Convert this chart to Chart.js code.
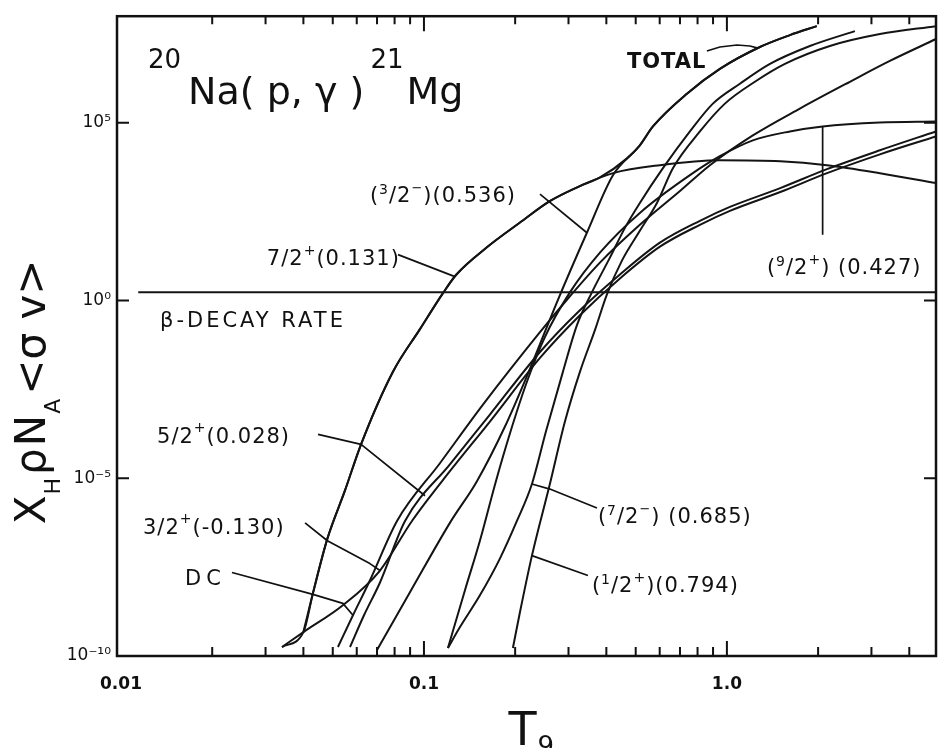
<!DOCTYPE html>
<html><head><meta charset="utf-8">
<script src="https://cdn.jsdelivr.net/npm/chart.js@4.4.1/dist/chart.umd.min.js"></script>
<style>html,body{margin:0;padding:0;background:#fff}canvas{display:block}</style>
</head><body>
<div style="width:940px;height:748px"><canvas id="c" width="940" height="748"></canvas></div>
<script>
// ---- data (T9, rate) ----
const xTickValues = [0.01, 0.1, 1];
const xTickLabels = ['0.01', '0.1', '1.0'];
const yTickValues = [1e-10, 1e-5, 1, 1e5];
const yTickLabels = ['10\u207B\u00B9\u2070', '10\u207B\u2075', '10\u2070', '10\u2075'];
const xMinorTicks = [0.02,0.03,0.04,0.05,0.06,0.07,0.08,0.09,0.2,0.3,0.4,0.5,0.6,0.7,0.8,0.9,2,3,4];
const xMajorTicks = [0.1, 1];

const T9_beta = [0.0114, 4.9];
const rate_beta = [1.7, 1.7];

const T9_72p = [0.040,0.043,0.048,0.0548,0.062,0.079,0.097,0.116,0.128,0.161,0.207,0.261,0.327,0.421,0.601,0.948,1.50,2.14,3.20,4.9];
const rate_72p = [4.7e-10,5.8e-9,2.0e-7,4.4e-6,9.0e-5,9.9e-3,0.157,1.7,5.4,31,154,634,1660,3840,6430,8860,8300,6430,3840,2020];

const T9_total = [0.0340,0.040,0.043,0.048,0.0548,0.062,0.079,0.097,0.116,0.128,0.161,0.207,0.261,0.327,0.381,0.468,0.516,0.570,0.738,0.948,1.285,1.614,1.98];
const rate_total = [1.79e-10,4.7e-10,5.8e-9,2.0e-7,4.4e-6,9.0e-5,9.9e-3,0.157,1.7,5.4,31,154,634,1660,2900,1.0e4,2.33e4,7.9e4,6.6e5,3.3e6,1.36e7,2.94e7,5.26e7];

const T9_32m = [0.0700,0.0899,0.1218,0.1496,0.1851,0.2238,0.2747,0.345,0.4206,0.516,0.570,0.738,0.948,1.285,1.614,1.98];
const rate_32m = [1.48e-10,6.2e-9,5.57e-7,8.3e-6,2.86e-4,1.20e-2,0.893,80.7,3370,2.33e4,7.9e4,6.6e5,3.3e6,1.36e7,2.94e7,5.26e7];

const T9_92p = [0.1200,0.1365,0.1530,0.1728,0.1922,0.2187,0.2507,0.3032,0.381,0.516,0.755,0.948,1.218,1.614,2.07,3.20,4.9];
const rate_92p = [1.68e-10,7.0e-9,1.75e-7,8.3e-6,1.82e-4,5.19e-3,9.4e-2,1.70,22.3,292,3370,1.15e4,3.21e4,5.73e4,7.9e4,1.02e5,1.09e5];

const T9_72m = [0.1200,0.1315,0.1530,0.1781,0.2027,0.2272,0.2527,0.2875,0.3199,0.3584,0.411,0.4607,0.516,0.615,0.755,0.899,1.104,1.387,1.879,2.645];
const rate_72m = [1.68e-10,6.5e-10,5.08e-9,5.5e-8,6.3e-7,6.9e-6,2.07e-4,9.86e-3,0.203,1.70,16.1,111,557,5300,5.73e4,3.47e5,1.26e6,4.55e6,1.45e7,3.81e7];

const T9_12p = [0.1966,0.2074,0.2272,0.2604,0.292,0.3272,0.3667,0.4018,0.4503,0.516,0.5875,0.6634,0.8145,0.985,1.237,1.554,2.187,3.20,4.9];
const rate_12p = [1.68e-10,1.70e-9,6.67e-8,6.9e-6,3.95e-4,9.86e-3,0.147,1.49,13.3,91.8,557,5300,5.73e4,3.47e5,1.43e6,4.55e6,1.45e7,3.14e7,5.26e7];

const T9_dc = [0.0520,0.0583,0.0663,0.0815,0.1129,0.1566,0.2415,0.3032,0.381,0.516,0.700,0.879,1.218,1.741,2.546,3.45,4.9];
const rate_dc = [1.79e-10,1.40e-9,1.33e-8,6.3e-7,2.65e-5,1.18e-3,0.129,1.32,11.7,135,1205,6430,4.43e4,2.52e5,1.43e6,5.52e6,2.28e7];

const T9_52p = [0.0570,0.0634,0.0716,0.0866,0.1218,0.1651,0.2415,0.3272,0.4435,0.601,0.8145,1.023,1.50,2.14,3.20,4.9];
const rate_52p = [1.79e-10,1.40e-9,1.17e-8,6.3e-7,2.48e-5,6.2e-4,3.57e-2,0.533,5.41,42.5,175,431,1460,4970,1.69e4,5.73e4];

const T9_32p = [0.0340,0.040,0.0540,0.0716,0.0913,0.1218,0.1651,0.2415,0.3272,0.4435,0.601,0.8145,1.023,1.50,2.14,3.20,4.9];
const rate_32p = [1.79e-10,4.7e-10,2.67e-9,2.54e-8,6.3e-7,1.58e-5,3.95e-4,2.43e-2,0.386,4.19,32.8,135,333,1130,3840,1.30e4,4.15e4];

const series = [
  ['beta', T9_beta, rate_beta],
  ['7/2+', T9_72p, rate_72p],
  ['TOTAL', T9_total, rate_total],
  ['3/2-', T9_32m, rate_32m],
  ['9/2+', T9_92p, rate_92p],
  ['7/2-', T9_72m, rate_72m],
  ['1/2+', T9_12p, rate_12p],
  ['DC', T9_dc, rate_dc],
  ['5/2+', T9_52p, rate_52p],
  ['3/2+', T9_32p, rate_32p]
];

const FONT = '"DejaVu Sans", sans-serif';

// labels: anchor (T9, rate) = left/baseline; parts [text, size, dy, gapBefore]
const textLabels = [
  {at:[0.01228, 3.47e5], parts:[['20',26,-36,0],['Na( p, \u03B3 )',38,0,7],['21',26,-36,6],['Mg',38,0,3]], sp:0},
  {at:[0.4677, 3.52e6], parts:[['TOTAL',21,0,0]], weight:'bold', sp:1},
  {at:[0.0663, 594], parts:[['(',21,0,0],['3',14,-8,0],['/2',21,0,0],['\u2212',13,-10,0],[')(0.536)',21,0,0]], sp:1},
  {at:[0.0303, 10.3], parts:[['7/2',21,0,0],['+',14,-10,0],['(0.131)',21,0,0]], sp:1},
  {at:[1.355, 5.41], parts:[['(',21,0,0],['9',14,-8,0],['/2',21,0,0],['+',14,-10,0],[') (0.427)',21,0,0]], sp:1},
  {at:[0.01345, 0.179], parts:[['\u03B2-DECAY RATE',21,0,0]], sp:3},
  {at:[0.01315, 9.6e-5], parts:[['5/2',21,0,0],['+',14,-11,0],['(0.028)',21,0,0]], sp:1},
  {at:[0.01182, 2.75e-7], parts:[['3/2',21,0,0],['+',14,-11,0],['(-0.130)',21,0,0]], sp:1},
  {at:[0.01626, 9.7e-9], parts:[['DC',21,0,0]], sp:5},
  {at:[0.3752, 5.57e-7], parts:[['(',21,0,0],['7',14,-8,0],['/2',21,0,0],['\u2212',13,-10,0],[') (0.685)',21,0,0]], sp:1},
  {at:[0.3584, 6.2e-9], parts:[['(',21,0,0],['1',14,-8,0],['/2',21,0,0],['+',14,-10,0],[')(0.794)',21,0,0]], sp:1}
];

// leader lines: points (T9, rate), ending on the named curve at T9 = end
const leaders = [
  {pts:[[0.2415, 993]], curve:'3/2-', end:0.345},
  {pts:[[0.0821, 19.6]], curve:'7/2+', end:0.1265},
  {pts:[[2.07, 71]], curve:'9/2+', end:2.07},
  {pts:[[0.0447, 1.71e-4],[0.062, 9.0e-5]], curve:'5/2+', end:0.1008},
  {pts:[[0.0405, 5.57e-7],[0.048, 1.75e-7],[0.0663, 3.98e-8]], curve:'3/2+', end:0.0716},
  {pts:[[0.02324, 2.23e-8],[0.043, 5.42e-9],[0.054, 3.03e-9]], curve:'DC', end:0.0583},
  {pts:[[0.3724, 1.46e-6],[0.2604, 4.97e-6]], curve:'7/2-', end:0.2272},
  {pts:[[0.3478, 1.84e-8]], curve:'1/2+', end:0.2272},
  {pts:[[0.859, 1.05e7],[0.948, 1.36e7],[1.079, 1.55e7],[1.191, 1.45e7]], curve:'TOTAL', end:1.266}
];

function rateAt(name, t) {
  const s = series.find(q => q[0] === name);
  const xs = s[1], ys = s[2];
  for (let i = 0; i < xs.length - 1; i++) {
    if (t >= xs[i] && t <= xs[i+1]) {
      const f = (Math.log(t) - Math.log(xs[i])) / (Math.log(xs[i+1]) - Math.log(xs[i]));
      return Math.exp(Math.log(ys[i]) + f * (Math.log(ys[i+1]) - Math.log(ys[i])));
    }
  }
  return ys[ys.length-1];
}

function rich(ctx, x0, y0, parts, weight, sp) {
  let x = x0;
  ctx.letterSpacing = (sp || 0) + 'px';
  for (const [t, size, dy, gap] of parts) {
    x += gap || 0;
    ctx.font = (weight || 'normal') + ' ' + size + 'px ' + FONT;
    ctx.fillText(t, x, y0 + (dy || 0));
    x += ctx.measureText(t).width;
  }
  ctx.letterSpacing = '0px';
}

const decor = {
  id: 'decor',
  afterDatasetsDraw(chart) {
    const {ctx, chartArea: a, scales} = chart;
    const sx = scales.x, sy = scales.y;
    const P = (t, r) => [sx.getPixelForValue(t), sy.getPixelForValue(r)];
    ctx.save();
    ctx.strokeStyle = '#111';
    ctx.fillStyle = '#111';
    ctx.lineCap = 'butt';
    // frame
    ctx.lineWidth = 2.5;
    ctx.strokeRect(a.left, a.top, a.right - a.left, a.bottom - a.top);
    // inward tick marks
    ctx.lineWidth = 2;
    ctx.beginPath();
    xMinorTicks.forEach(v => {
      const X = sx.getPixelForValue(v);
      ctx.moveTo(X, a.bottom); ctx.lineTo(X, a.bottom - 9);
      ctx.moveTo(X, a.top); ctx.lineTo(X, a.top + 8);
    });
    xMajorTicks.forEach(v => {
      const X = sx.getPixelForValue(v);
      ctx.moveTo(X, a.bottom); ctx.lineTo(X, a.bottom - 15);
      ctx.moveTo(X, a.top); ctx.lineTo(X, a.top + 15);
    });
    [1e5, 1, 1e-5].forEach(v => {
      const Y = sy.getPixelForValue(v);
      ctx.moveTo(a.left, Y); ctx.lineTo(a.left + 12, Y);
      ctx.moveTo(a.right, Y); ctx.lineTo(a.right - 12, Y);
    });
    ctx.stroke();
    // leader lines
    ctx.lineWidth = 1.7;
    ctx.lineJoin = 'round';
    leaders.forEach(L => {
      ctx.beginPath();
      L.pts.forEach((p, i) => {
        const [X, Y] = P(p[0], p[1]);
        if (i === 0) ctx.moveTo(X, Y); else ctx.lineTo(X, Y);
      });
      const [Xe, Ye] = P(L.end, rateAt(L.curve, L.end));
      ctx.lineTo(Xe, Ye);
      ctx.stroke();
    });
    // text labels
    ctx.textBaseline = 'alphabetic';
    ctx.textAlign = 'left';
    textLabels.forEach(l => {
      const [X, Y] = P(l.at[0], l.at[1]);
      rich(ctx, X, Y, l.parts, l.weight, l.sp);
    });
    // axis titles
    ctx.save();
    ctx.translate(a.left - 72, a.top + 508);
    ctx.rotate(-Math.PI / 2);
    rich(ctx, 0, 0, [['X',42,0,0],['H',22,15,1],['\u03C1',42,0,3],['N',42,0,2],['A',22,15,1],['<\u03C3 v>',42,0,4]], 'normal', 0);
    ctx.restore();
    rich(ctx, (a.left + a.right) / 2 - 18, 745, [['T',46,0,0],['9',26,10,1]], 'normal', 0);
    ctx.restore();
  }
};

const datasets = series.map(([name, xs, ys]) => ({
  label: name,
  data: xs.map((t, i) => ({x: t, y: ys[i]})),
  showLine: true,
  borderColor: '#141414',
  borderWidth: 2,
  pointRadius: 0,
  fill: false,
  cubicInterpolationMode: name === 'beta' ? 'default' : 'monotone',
  tension: 0
}));

new Chart(document.getElementById('c'), {
  type: 'scatter',
  data: { datasets },
  options: {
    responsive: false,
    devicePixelRatio: 1,
    animation: false,
    layout: { padding: { top: 12, right: 4, left: 0, bottom: 0 } },
    plugins: { legend: { display: false }, tooltip: { enabled: false } },
    scales: {
      x: {
        type: 'logarithmic', position: 'bottom', min: 0.0097, max: 4.9,
        grid: { display: false, drawTicks: false },
        border: { display: false },
        afterBuildTicks: s => { s.ticks = xTickValues.map(v => ({ value: v })); },
        afterFit: s => { s.height = 92; },
        ticks: {
          autoSkip: false, maxRotation: 0, padding: 18, color: '#111',
          font: { family: FONT, size: 17, weight: 'bold' },
          callback: (v) => { const i = xTickValues.findIndex(q => Math.abs(q - v) / q < 1e-6); return i >= 0 ? xTickLabels[i] : ''; }
        }
      },
      y: {
        type: 'logarithmic', position: 'left', min: 1e-10, max: 1e8,
        grid: { display: false, drawTicks: false },
        border: { display: false },
        afterBuildTicks: s => { s.ticks = yTickValues.map(v => ({ value: v })); },
        afterFit: s => { s.width = 117; },
        ticks: {
          autoSkip: false, padding: 6, color: '#111',
          font: { family: FONT, size: 17 },
          callback: (v) => { const i = yTickValues.findIndex(q => Math.abs(q - v) / q < 1e-6); return i >= 0 ? yTickLabels[i] : ''; }
        }
      }
    }
  },
  plugins: [decor]
});
</script>
</body></html>
